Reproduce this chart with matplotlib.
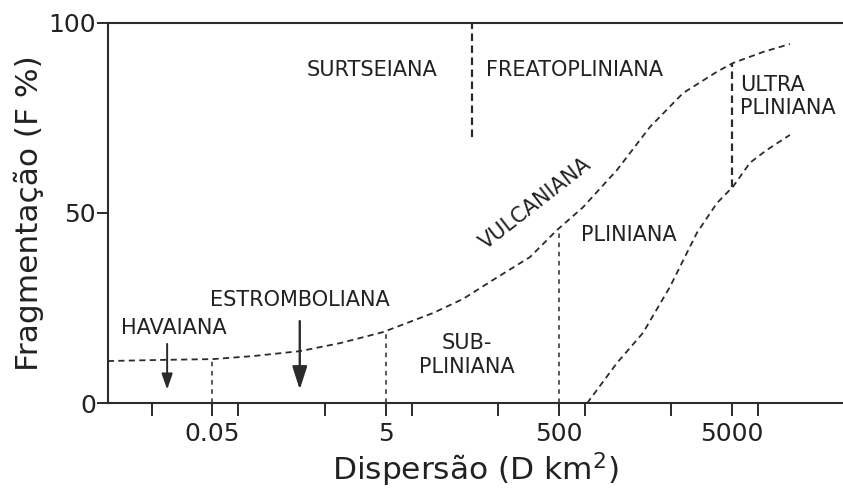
import matplotlib
matplotlib.use("Agg")
import matplotlib.pyplot as plt
from matplotlib.ticker import FixedLocator, FixedFormatter, NullFormatter


# limite Vulcaniana / Pliniana (D em km2, F em %)
upperD = [0.0031, 0.0134, 0.05, 0.147, 0.514, 1.49, 4.67, 17.6, 39.1, 87,
          232, 476, 952, 2350, 5650, 13600, 33500, 51300, 114000, 233000]
upperF = [11.1, 11.4, 11.6, 12.4, 13.7, 15.8, 18.7, 23.7, 27.4, 32.4,
          38.4, 45.5, 51.5, 61.3, 72.6, 81.5, 87.1, 89.4, 92.3, 94.4]

# limite inferior Pliniana / Ultrapliniana
lowerD = [1060, 2350, 4690, 9610, 19700, 33500, 51300, 80700, 127000, 233000]
lowerF = [0, 10.6, 18.5, 30.6, 44.8, 52.6, 56.9, 63.2, 66.6, 70.5]

# divisões verticais sob a curva
boundaryD = [0.05, 5, 500]
boundaryTopF = [11.6, 18.7, 45.5]

ultraD = 50000
ultraF = [56.9, 89.4]
freatoD = 50
freatoF = [70, 100]

# ticks do eixo x
majorTicks = [0.05, 5, 500, 50000]
majorLabels = ["0.05", "5", "500", "5000"]
minorTicks = [0.01, 0.1, 1, 10, 100, 1000, 10000, 100000]

yTicks = [0, 50, 100]

lineColor = "#2b2b2b"
textColor = "#222222"


def drawChart():
    fig = plt.figure(figsize=(8.43, 4.90), dpi=100)
    ax = fig.add_axes([0.1285, 0.177, 0.8715, 0.7767])

    ax.set_xscale("log")
    ax.set_xlim(0.00314, 9.57e5)
    ax.set_ylim(0, 100)

    dashCurve = (0, (3.4, 2.4))
    ax.plot(upperD, upperF, color=lineColor, lw=1.3, linestyle=dashCurve)
    ax.plot(lowerD, lowerF, color=lineColor, lw=1.3, linestyle=dashCurve)

    for d, top in zip(boundaryD, boundaryTopF):
        ax.plot([d, d], [0, top], color=lineColor, lw=1.1, linestyle=(0, (3.0, 3.0)))

    ax.plot([ultraD, ultraD], ultraF, color=lineColor, lw=1.6, linestyle=(0, (3.4, 2.0)))
    ax.plot([freatoD, freatoD], freatoF, color=lineColor, lw=1.6, linestyle=(0, (3.4, 2.0)))

    # setas
    ax.annotate("", xy=(0.015, 3.6), xytext=(0.015, 15.6),
                arrowprops=dict(arrowstyle="-|>,head_length=0.95,head_width=0.33",
                                lw=1.4, color=lineColor, shrinkA=0, shrinkB=0,
                                mutation_scale=10))
    ax.annotate("", xy=(0.51, 3.6), xytext=(0.51, 21.6),
                arrowprops=dict(arrowstyle="-|>,head_length=1.4,head_width=0.45",
                                lw=1.7, color=lineColor, shrinkA=0, shrinkB=0,
                                mutation_scale=10))

    labelSize = 15
    kw = dict(fontsize=labelSize, color=textColor, ha="center", va="center")
    ax.text(3.48, 87.6, "SURTSEIANA", **kw)
    ax.text(769, 87.6, "FREATOPLINIANA", **kw)
    ax.text(61800, 80.7, "ULTRA\nPLINIANA", fontsize=labelSize, color=textColor,
            ha="left", va="center", linespacing=1.2)
    ax.text(266, 52.6, "VULCANIANA", rotation=38, rotation_mode="anchor", **kw)
    ax.text(3230, 44.2, "PLINIANA", **kw)
    ax.text(43.6, 12.7, "SUB-\nPLINIANA", multialignment="center",
            linespacing=1.2, **kw)
    ax.text(0.51, 27.1, "ESTROMBOLIANA", **kw)
    ax.text(0.018, 19.8, "HAVAIANA", **kw)

    ax.spines["right"].set_visible(False)
    for side in ["left", "bottom", "top"]:
        ax.spines[side].set_linewidth(1.5)
        ax.spines[side].set_color(lineColor)

    ax.xaxis.set_major_locator(FixedLocator(majorTicks))
    ax.xaxis.set_major_formatter(FixedFormatter(majorLabels))
    ax.xaxis.set_minor_locator(FixedLocator(minorTicks))
    ax.xaxis.set_minor_formatter(NullFormatter())
    ax.set_yticks(yTicks)

    ax.tick_params(axis="x", which="both", direction="out", length=9.5, width=1.4,
                   color=lineColor, labelsize=18, labelcolor=textColor, pad=4)
    ax.tick_params(axis="y", direction="out", length=8, width=1.4, color=lineColor,
                   labelsize=18, labelcolor=textColor, pad=1)
    ax.tick_params(top=False, right=False)

    ax.set_xlabel("Dispersão (D km$^2$)", fontsize=22.5, color=textColor, labelpad=3)
    ax.set_ylabel("Fragmentação (F %)", fontsize=22.5, color=textColor, labelpad=3)

    fig.savefig("out.png", dpi=100)
    plt.close(fig)


if __name__ == "__main__":
    drawChart()
